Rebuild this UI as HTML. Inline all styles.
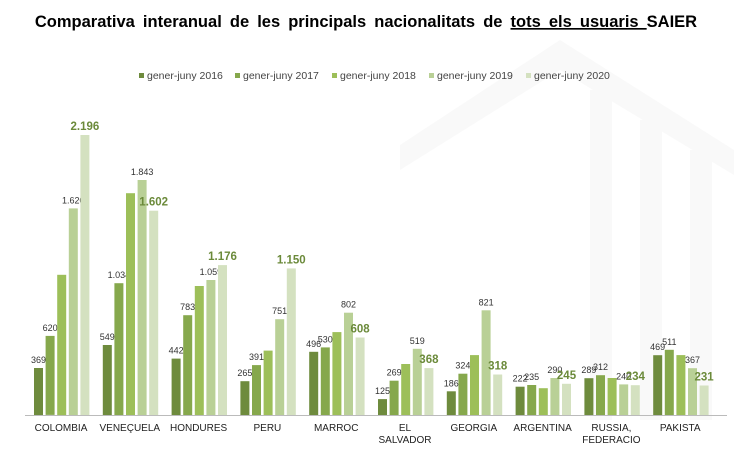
<!DOCTYPE html>
<html><head><meta charset="utf-8"><style>
body{margin:0;background:#fff;width:734px;height:461px;overflow:hidden;font-family:"Liberation Sans",Arial,sans-serif}
</style></head><body>
<svg id="s" width="734" height="461" xmlns="http://www.w3.org/2000/svg" font-family="Liberation Sans, Arial, sans-serif">
<g fill="#f9f9f9">
<polygon points="560,40 734,150 734,175 560,70 400,170 400,145"/>
<rect x="590" y="90" width="22" height="330"/>
<rect x="640" y="120" width="22" height="300"/>
<rect x="690" y="150" width="22" height="270"/>
</g>
<text x="366" y="27" text-anchor="middle" font-size="16.5" font-weight="bold" fill="#000" word-spacing="3.5">Comparativa  interanual  de les  principals  nacionalitats  de <tspan text-decoration="underline">tots els usuaris </tspan>SAIER</text>
<g font-size="10.5" fill="#444">
<rect x="139" y="73" width="5" height="5" fill="#6e8b3d"/><text x="147" y="79">gener-juny 2016</text>
<rect x="235" y="73" width="5" height="5" fill="#86a84c"/><text x="243" y="79">gener-juny 2017</text>
<rect x="332" y="73" width="5" height="5" fill="#9dbf59"/><text x="340" y="79">gener-juny 2018</text>
<rect x="429" y="73" width="5" height="5" fill="#b9d096"/><text x="437" y="79">gener-juny 2019</text>
<rect x="526" y="73" width="5" height="5" fill="#d4e1c0"/><text x="534" y="79">gener-juny 2020</text>
</g>
<line x1="25" y1="415.5" x2="727" y2="415.5" stroke="#bbb" stroke-width="1"/>
<g id="bars"></g>
</svg>
<script>
var d=[["COLOMBIA",[369,620,1100,1620,2196],"2.196",[1,1,0,1,1]],
["VENEÇUELA",[549,1034,1740,1843,1602],"1.602",[1,1,0,1,1]],
["HONDURES",[442,783,1012,1059,1176],"1.176",[1,1,0,1,1]],
["PERU",[265,391,505,751,1150],"1.150",[1,1,0,1,1]],
["MARROC",[496,530,650,802,608],"608",[1,1,0,1,1]],
["EL|SALVADOR",[125,269,400,519,368],"368",[1,1,0,1,1]],
["GEORGIA",[186,324,470,821,318],"318",[1,1,0,1,1]],
["ARGENTINA",[222,235,210,290,245],"245",[1,1,0,1,1]],
["RUSSIA,|FEDERACIO",[289,312,290,240,234],"234",[1,1,0,1,1]],
["PAKISTA",[469,511,470,367,231],"231",[1,1,0,1,1]]];
var cols=["#6e8b3d","#86a84c","#9dbf59","#b9d096","#d4e1c0"];
var k=0.1275,b=415,h="";
function f(v){return v>=1000?(Math.floor(v/1000)+"."+String(v%1000).padStart(3,"0")):String(v);}
d.forEach(function(g,i){var x0=34+i*68.8;
g[1].forEach(function(v,j){var x=x0+j*11.6,hh=v*k;
h+='<rect x="'+x.toFixed(1)+'" y="'+(b-hh).toFixed(1)+'" width="9" height="'+hh.toFixed(1)+'" fill="'+cols[j]+'"/>';
if(g[3][j]){var cx=x+4.5;
if(j==4)h+='<text x="'+cx+'" y="'+(b-hh-5)+'" text-anchor="middle" font-size="11.5" font-weight="bold" fill="#6b8a3a">'+g[2]+'</text>';
else h+='<text x="'+cx+'" y="'+(b-hh-5)+'" text-anchor="middle" font-size="9" fill="#333">'+f(v)+'</text>';}
});
var ls=g[0].split("|"),cx=x0+27;
ls.forEach(function(l,m){h+='<text x="'+cx+'" y="'+(431+m*12)+'" text-anchor="middle" font-size="10" fill="#222">'+l+'</text>';});
});
document.getElementById("bars").innerHTML=h;
</script>
</body></html>
